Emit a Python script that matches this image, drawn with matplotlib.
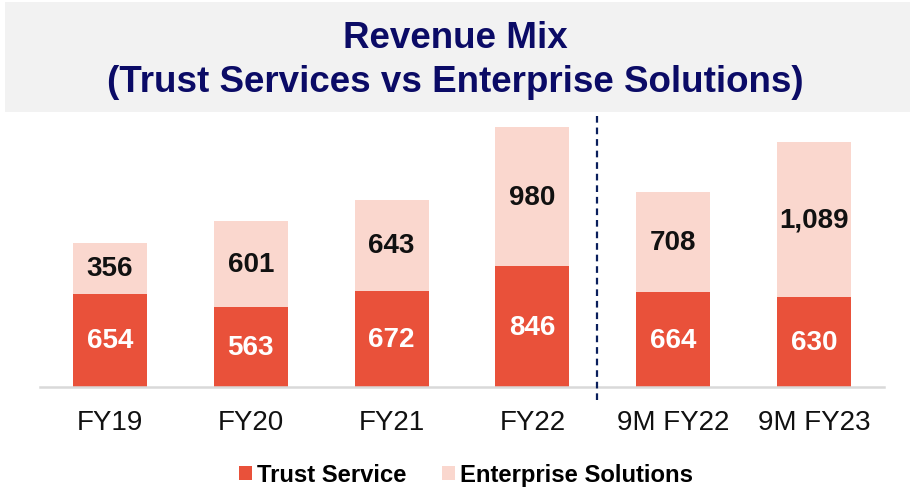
import matplotlib
matplotlib.use("Agg")
import matplotlib.pyplot as plt
from matplotlib.patches import Rectangle

categories = ["FY19", "FY20", "FY21", "FY22", "9M FY22", "9M FY23"]
trust_service = [654, 563, 672, 846, 664, 630]
enterprise_solutions = [356, 601, 643, 980, 708, 1089]
series_names = ["Trust Service", "Enterprise Solutions"]
title_lines = ["Revenue Mix", "(Trust Services vs Enterprise Solutions)"]

RED = "#E9513A"
PINK = "#FAD7CE"
NAVY = "#0B0B66"
DASH = "#0A1F5C"

plt.rcParams['font.family'] = ['Liberation Sans', 'DejaVu Sans']

fig = plt.figure(figsize=(9.10, 4.89), dpi=100)
W, H = 910, 489

# title box
fig.patches.append(Rectangle((5 / W, (H - 113) / H), 905 / W, 110 / H,
                             transform=fig.transFigure, facecolor="#F2F2F2",
                             edgecolor="none", zorder=0))
fig.text(0.5, 1 - 39 / H, title_lines[0], ha="center", va="center",
         fontsize=26.5, fontweight="bold", color=NAVY)
fig.text(0.5, 1 - 83 / H, title_lines[1], ha="center", va="center",
         fontsize=26.5, fontweight="bold", color=NAVY)

ax = fig.add_axes([39.5 / W, (H - 388) / H, 845 / W, 273 / H])
x = list(range(len(categories)))
b1 = ax.bar(x, trust_service, width=0.525, color=RED, label=series_names[0], zorder=2)
b2 = ax.bar(x, enterprise_solutions, width=0.525, bottom=trust_service, color=PINK,
            label=series_names[1], zorder=2)

ax.bar_label(b1, labels=[f"{v:,}" for v in trust_service], label_type="center",
             color="white", fontsize=20, fontweight="bold")
ax.bar_label(b2, labels=[f"{v:,}" for v in enterprise_solutions], label_type="center",
             color="#111111", fontsize=20, fontweight="bold")

ax.set_xlim(-0.5, 5.5)
ax.set_ylim(0, 1916)
ax.set_xticks(x)
ax.set_xticklabels(categories, fontsize=20, color="#111111")
ax.tick_params(axis="x", length=0, pad=16)
ax.set_yticks([])
for s in ["top", "right", "left"]:
    ax.spines[s].set_visible(False)
ax.spines["bottom"].set_color("#D9D9D9")
ax.spines["bottom"].set_linewidth(1.8)
ax.patch.set_alpha(0)

ax.axvline(3.46, ymin=-13 / 273, ymax=1.0, color=DASH, lw=1.6,
           linestyle=(0, (3, 2.2)), clip_on=False, zorder=3)

fig.legend(handles=[b1, b2], labels=series_names, loc="center",
           bbox_to_anchor=(466 / W, 1 - 476 / H), ncol=2, frameon=False,
           prop={"size": 17.2, "weight": "bold"}, handlelength=0.55,
           handleheight=0.55, handletextpad=0.2, columnspacing=1.5)

fig.savefig("out.png", dpi=100)
